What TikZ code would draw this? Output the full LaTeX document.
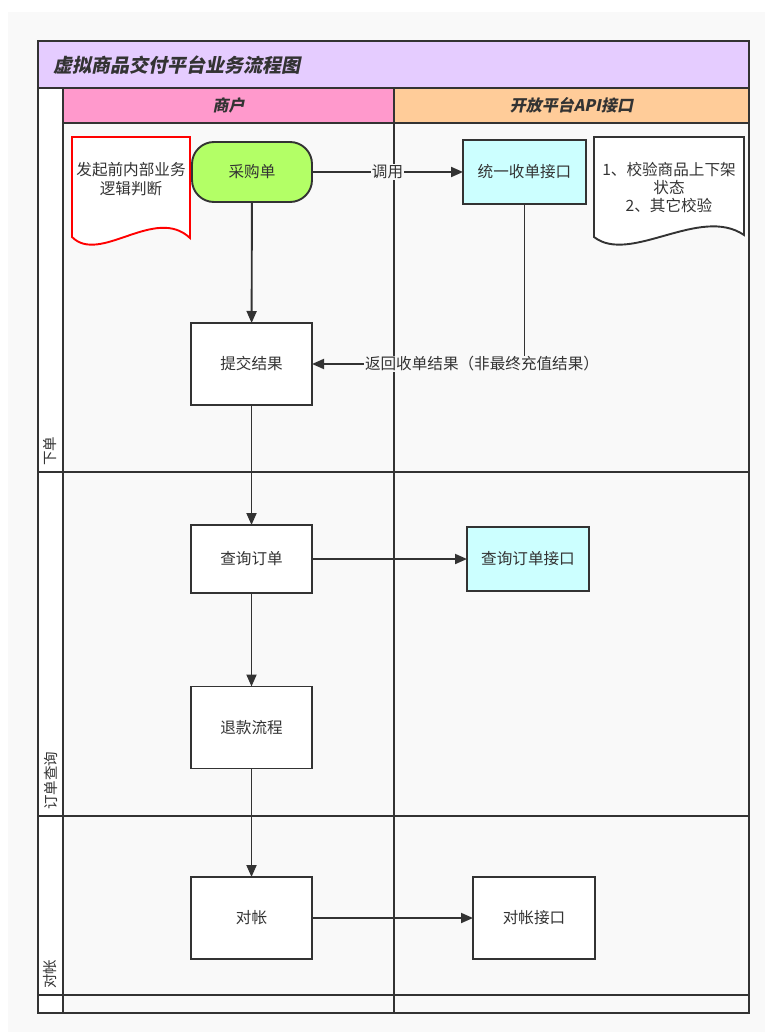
\documentclass[tikz,border=0pt]{standalone}
\usepackage{fontspec}
\setmainfont{Noto Sans CJK SC}
\newfontfamily\headfont[FakeSlant=0.2]{Noto Sans CJK SC}
\usetikzlibrary{arrows.meta}
\definecolor{bgc}{HTML}{F9F9F9}
\definecolor{titlec}{HTML}{E5CCFF}
\definecolor{pinkc}{HTML}{FF99CC}
\definecolor{orangec}{HTML}{FFCC99}
\definecolor{greenc}{HTML}{B3FF66}
\definecolor{cyanc}{HTML}{CCFFFF}
\definecolor{linec}{HTML}{333333}
\definecolor{txt}{HTML}{333333}
\tikzset{
  lane/.style={draw=linec, line width=1.9pt},
  proc/.style={draw=linec, line width=1.9pt, fill=white, inner sep=0pt, outer sep=0pt,
    minimum width=121pt, minimum height=82pt, text=txt, font=\fontsize{15.6}{18}\selectfont},
  conn/.style={draw=linec, line width=1.9pt, -{Triangle[length=12pt,width=10pt]}},
  lbl/.style={fill=bgc, inner sep=1pt, text=txt, font=\fontsize{15.6}{18}\selectfont},
  rowlbl/.style={rotate=90, anchor=west, inner sep=0pt, text=txt, font=\fontsize{14.5}{16}\selectfont},
  headtxt/.style={text=txt, font=\headfont\bfseries\fontsize{16}{19}\selectfont},
  doctxt/.style={align=center, text=txt, font=\fontsize{15.6}{18.5}\selectfont}
}
\begin{document}
\begin{tikzpicture}[x=1pt,y=-1pt]
\useasboundingbox (0,0) rectangle (765,1032);
\fill[bgc] (8,12) rectangle (765,1032);
\fill[white] (38,88) rectangle (63,1013);
\fill[titlec] (38,41) rectangle (749,88);
\fill[pinkc] (63,88) rectangle (394,123);
\fill[orangec] (394,88) rectangle (749,123);
\draw[lane] (38,41) rectangle (749,1013);
\draw[lane] (38,88) -- (749,88);
\draw[lane] (63,123) -- (749,123);
\draw[lane] (63,88) -- (63,1013);
\draw[lane] (394,88) -- (394,1013);
\foreach \y in {472,816,995} \draw[lane] (38,\y) -- (749,\y);

\node[anchor=west, text=txt, font=\headfont\bfseries\fontsize{19}{22}\selectfont] (title) at (50,65) {虚拟商品交付平台业务流程图};
\node[headtxt] (h1) at (228.5,105.5) {商户};
\node[headtxt] (h2) at (571.5,105.5) {开放平台API接口};

\node[rowlbl] (r1) at (50.5,466) {下单};
\node[rowlbl] (r2) at (50.5,810) {订单查询};
\node[rowlbl] (r3) at (50.5,989) {对帐};

% documents
\draw[draw=red, line width=1.9pt, fill=white] (72,137) -- (190,137) -- (190,238)
  .. controls (155,205) and (100,265) .. (72,237) -- cycle;
\node[doctxt] (d1) at (131,179) {发起前内部业务\\逻辑判断};
\draw[draw=linec, line width=1.9pt, fill=white] (594,137) -- (744,137) -- (744,235)
  .. controls (700,205) and (630,265) .. (594,237) -- cycle;
\node[doctxt, font=\fontsize{15.6}{18}\selectfont] (d2) at (669,188) {1、校验商品上下架\\状态\\2、其它校验};

% nodes
\node[proc, fill=greenc, rounded corners=22pt, minimum height=60pt, minimum width=120pt] (cg) at (252,172) {采购单};
\node[proc, fill=cyanc, minimum width=123pt, minimum height=64pt] (tyjk) at (524.5,172) {统一收单接口};
\node[proc] (tjjg) at (251.5,364) {提交结果};
\node[proc, minimum height=68pt] (cxdd) at (251.5,559) {查询订单};
\node[proc, fill=cyanc, minimum width=122pt, minimum height=64pt] (cxjk) at (528,559) {查询订单接口};
\node[proc] (tk) at (251.5,727.5) {退款流程};
\node[proc] (dz) at (251.5,918) {对帐};
\node[proc, minimum width=122pt] (dzjk) at (534,918) {对帐接口};

% connectors
\draw[conn] (cg) -- node[lbl] {调用} (tyjk);
\draw[conn] (cg) -- (tjjg);
\draw[conn] (tyjk.south) |- node[lbl, pos=0.6] {返回收单结果（非最终充值结果）} (tjjg.east);
\draw[conn] (tjjg) -- (cxdd);
\draw[conn] (cxdd) -- (cxjk);
\draw[conn] (cxdd) -- (tk);
\draw[conn] (tk) -- (dz);
\draw[conn] (dz) -- (dzjk);
\end{tikzpicture}
\end{document}
